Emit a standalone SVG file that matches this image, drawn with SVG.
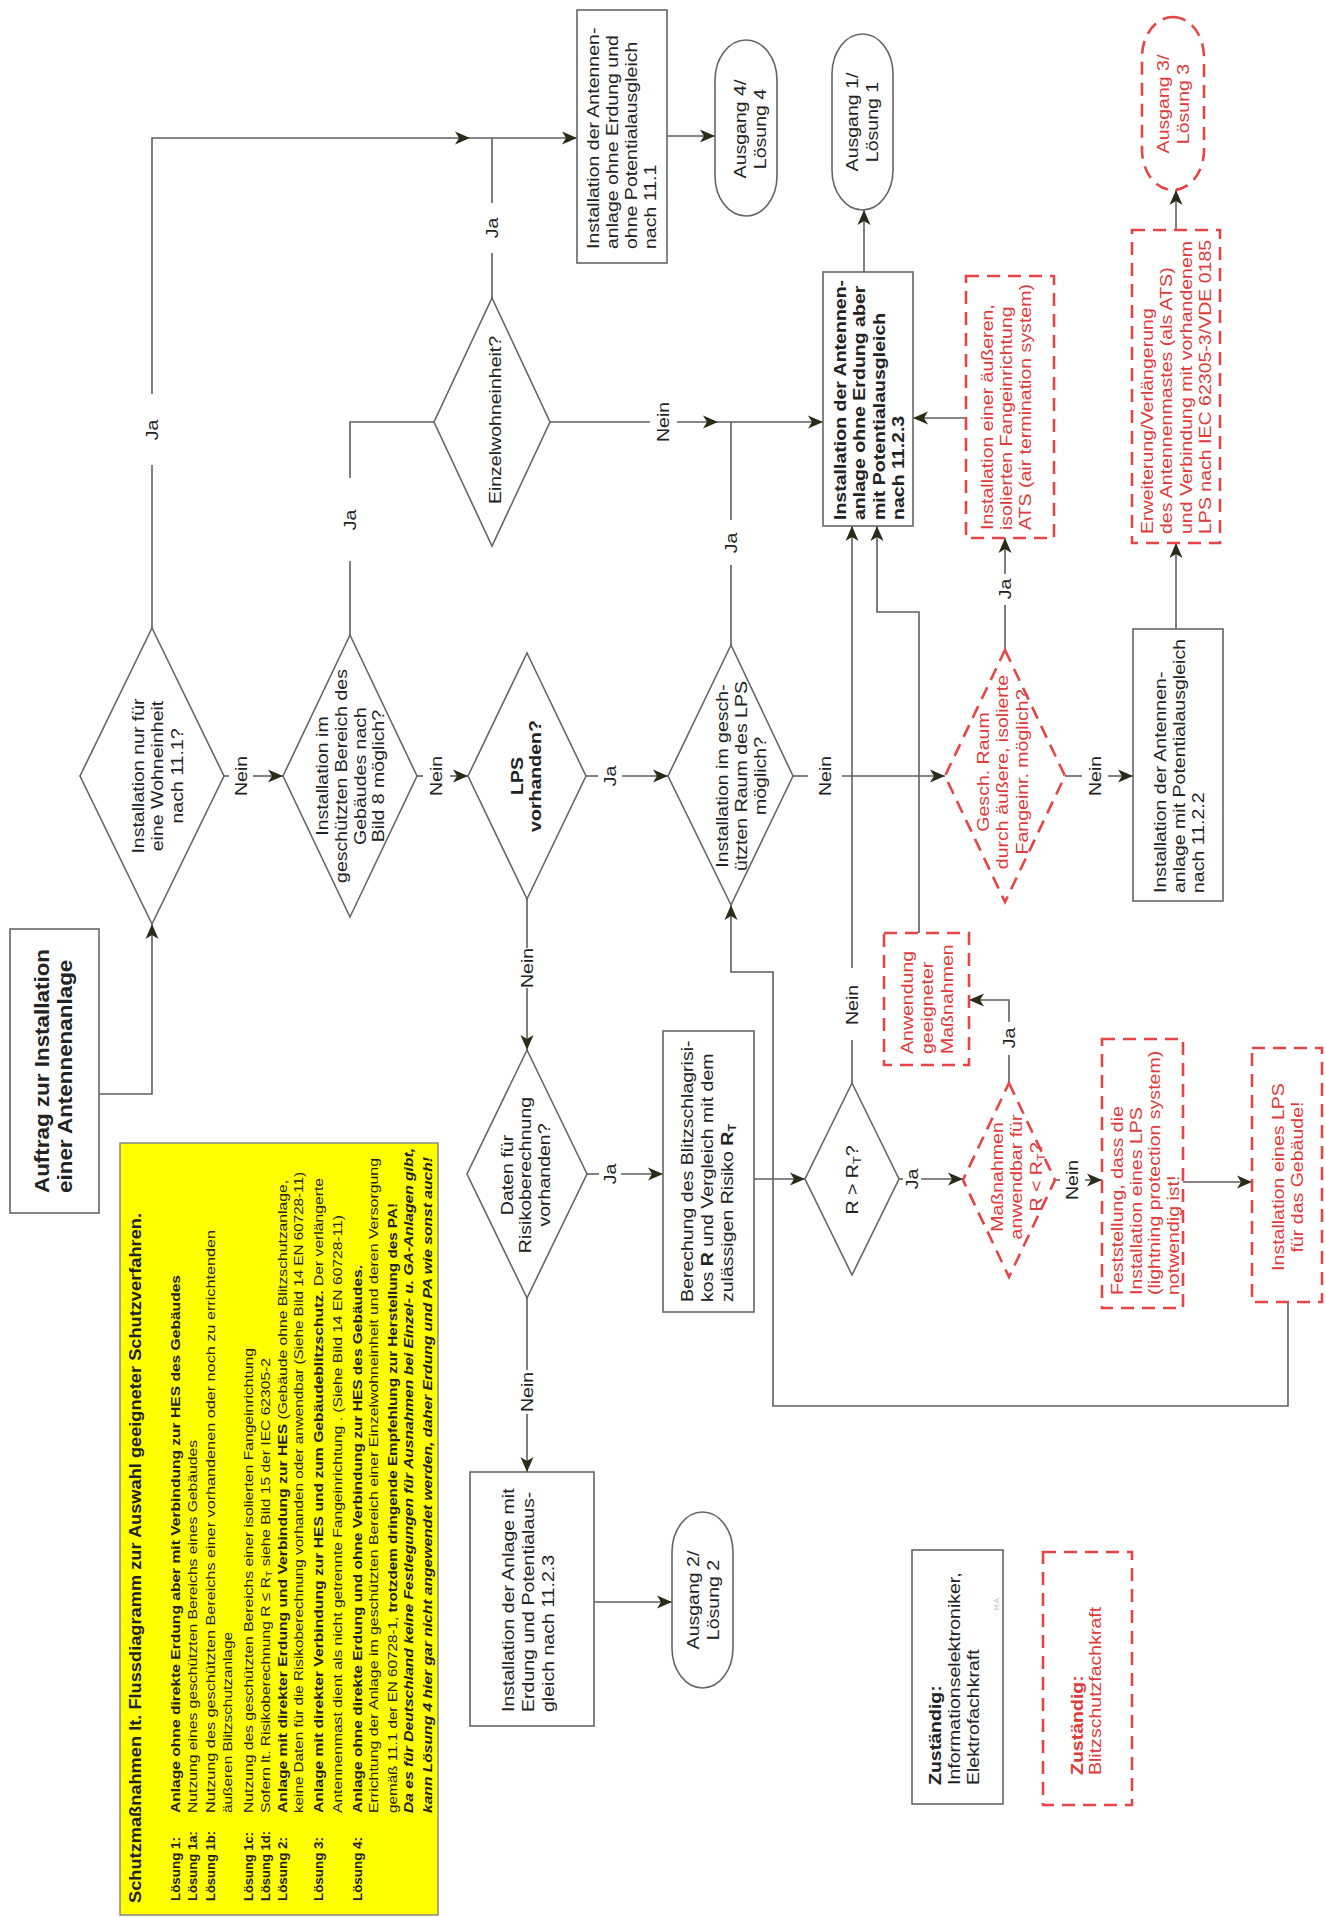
<svg xmlns="http://www.w3.org/2000/svg" width="1325" height="1917" viewBox="0 0 1325 1917">
<style>
.t{font-family:"Liberation Sans",Arial,sans-serif;font-size:17px;fill:#222}
.b{font-weight:bold}
.r{fill:#e03a3a}
.m{text-anchor:middle}
.box{fill:#fff;stroke:#666;stroke-width:1.6}
.rbox{fill:#fff;stroke:#e64545;stroke-width:2.6;stroke-dasharray:13 8}
.ln{fill:none;stroke:#5f5f5f;stroke-width:1.6}
.y{font-family:"Liberation Sans",Arial,sans-serif;font-size:13.5px;fill:#222}
</style>
<defs>
<marker id="a" viewBox="0 0 15 14" refX="15" refY="7" markerWidth="15" markerHeight="14" markerUnits="userSpaceOnUse" orient="auto"><path d="M0,0.5 L15,7 L0,13.5 L4,7 z" fill="#2b2b18"/></marker>
</defs>
<rect width="1325" height="1917" fill="#fff"/>

<g id="connectors">
<path class="ln" d="M99,1094 H152 V924" marker-end="url(#a)"/>
<path class="ln" d="M152,628 V465"/>
<path class="ln" d="M152,394 V138 H470" marker-end="url(#a)"/>
<path class="ln" d="M470,138 H577" marker-end="url(#a)"/>
<path class="ln" d="M224,776 H229"/>
<path class="ln" d="M253,776 H283" marker-end="url(#a)"/>
<path class="ln" d="M350,635 V561"/>
<path class="ln" d="M350,478 V422 H434"/>
<path class="ln" d="M492,298 V253"/>
<path class="ln" d="M492,203 V138"/>
<path class="ln" d="M667,136 H715" marker-end="url(#a)"/>
<path class="ln" d="M550,422 H650"/>
<path class="ln" d="M677,422 H718" marker-end="url(#a)"/>
<path class="ln" d="M718,422 H823" marker-end="url(#a)"/>
<path class="ln" d="M731,645 V565"/>
<path class="ln" d="M731,520 V422"/>
<path class="ln" d="M864,272 V210" marker-end="url(#a)"/>
<path class="ln" d="M966,418 H913" marker-end="url(#a)"/>
<path class="ln" d="M417,776 H423"/>
<path class="ln" d="M450,776 H468" marker-end="url(#a)"/>
<path class="ln" d="M586,776 H598"/>
<path class="ln" d="M622,776 H668" marker-end="url(#a)"/>
<path class="ln" d="M793,776 H808"/>
<path class="ln" d="M842,776 H945" marker-end="url(#a)"/>
<path class="ln" d="M852,1083 V1040"/>
<path class="ln" d="M852,968 V526" marker-end="url(#a)"/>
<path class="ln" d="M919,933 V612 H877 V526" marker-end="url(#a)"/>
<path class="ln" d="M1005,650 V605"/>
<path class="ln" d="M1005,574 V538" marker-end="url(#a)"/>
<path class="ln" d="M1065,776 H1082"/>
<path class="ln" d="M1108,776 H1133" marker-end="url(#a)"/>
<path class="ln" d="M1176,629 V543" marker-end="url(#a)"/>
<path class="ln" d="M1176,230 V190" marker-end="url(#a)"/>
<path class="ln" d="M527,899 V948"/>
<path class="ln" d="M527,988 V1050" marker-end="url(#a)"/>
<path class="ln" d="M587,1174 H599"/>
<path class="ln" d="M621,1174 H663" marker-end="url(#a)"/>
<path class="ln" d="M754,1179 H805" marker-end="url(#a)"/>
<path class="ln" d="M899,1179 H903"/>
<path class="ln" d="M921,1179 H963" marker-end="url(#a)"/>
<path class="ln" d="M1009,1083 V1055"/>
<path class="ln" d="M1009,1022 V1000 H969" marker-end="url(#a)"/>
<path class="ln" d="M1055,1180 H1060"/>
<path class="ln" d="M1085,1180 H1102" marker-end="url(#a)"/>
<path class="ln" d="M1183,1182 H1252" marker-end="url(#a)"/>
<path class="ln" d="M1288,1302 V1406 H773 V972 H731 V905" marker-end="url(#a)"/>
<path class="ln" d="M527,1298 V1370"/>
<path class="ln" d="M527,1414 V1472" marker-end="url(#a)"/>
<path class="ln" d="M594,1602 H672" marker-end="url(#a)"/>
<text class="t m" transform="translate(158 430) rotate(-90) scale(1.15 1)">Ja</text>
<text class="t m" transform="translate(247 776) rotate(-90) scale(1.15 1)">Nein</text>
<text class="t m" transform="translate(356 520) rotate(-90) scale(1.15 1)">Ja</text>
<text class="t m" transform="translate(498 228) rotate(-90) scale(1.15 1)">Ja</text>
<text class="t m" transform="translate(669 422) rotate(-90) scale(1.15 1)">Nein</text>
<text class="t m" transform="translate(737 543) rotate(-90) scale(1.15 1)">Ja</text>
<text class="t m" transform="translate(442 776) rotate(-90) scale(1.15 1)">Nein</text>
<text class="t m" transform="translate(616 776) rotate(-90) scale(1.15 1)">Ja</text>
<text class="t m" transform="translate(831 776) rotate(-90) scale(1.15 1)">Nein</text>
<text class="t m" transform="translate(858 1005) rotate(-90) scale(1.15 1)">Nein</text>
<text class="t m" transform="translate(1011 589) rotate(-90) scale(1.15 1)">Ja</text>
<text class="t m" transform="translate(1101 776) rotate(-90) scale(1.15 1)">Nein</text>
<text class="t m" transform="translate(533 968) rotate(-90) scale(1.15 1)">Nein</text>
<text class="t m" transform="translate(616 1174) rotate(-90) scale(1.15 1)">Ja</text>
<text class="t m" transform="translate(918 1179) rotate(-90) scale(1.15 1)">Ja</text>
<text class="t m" transform="translate(1015 1038) rotate(-90) scale(1.15 1)">Ja</text>
<text class="t m" transform="translate(1078 1180) rotate(-90) scale(1.15 1)">Nein</text>
<text class="t m" transform="translate(533 1392) rotate(-90) scale(1.15 1)">Nein</text>
</g>

<g id="n-auftrag">
<rect class="box" x="10" y="929" width="89" height="284" stroke-width="2"/>
<text class="t b" style="font-size:19.5px" transform="translate(49 1193) rotate(-90) scale(1.15 1)"><tspan x="0" y="0">Auftrag zur Installation</tspan><tspan x="0" y="23">einer Antennenanlage</tspan></text>
</g>

<g id="n-d1">
<polygon class="box" points="152,628 224,776 152,924 80,776"/>
<text class="t m" transform="translate(144 776) rotate(-90) scale(1.15 1)"><tspan x="0" y="0">Installation nur für</tspan><tspan x="0" y="19.5">eine Wohneinheit</tspan><tspan x="0" y="39">nach 11.1?</tspan></text>
</g>

<g id="n-d2">
<polygon class="box" points="350,635 417,776 350,917 283,776"/>
<text class="t m" transform="translate(328 776) rotate(-90) scale(1.15 1)"><tspan x="0" y="0">Installation im</tspan><tspan x="0" y="18.8">geschützten Bereich des</tspan><tspan x="0" y="37.6">Gebäudes nach</tspan><tspan x="0" y="56.4">Bild 8 möglich?</tspan></text>
</g>

<g id="n-einzel">
<polygon class="box" points="492,298 550,422 492,546 434,422"/>
<text class="t m" transform="translate(501 420) rotate(-90) scale(1.15 1)">Einzelwohneinheit?</text>
</g>

<g id="n-b111">
<rect class="box" x="577" y="10" width="90" height="253"/>
<text class="t" transform="translate(599 249) rotate(-90) scale(1.15 1)"><tspan x="0" y="0">Installation der Antennen-</tspan><tspan x="0" y="19">anlage  ohne Erdung und</tspan><tspan x="0" y="38">ohne Potentialausgleich</tspan><tspan x="0" y="57">nach 11.1</tspan></text>
</g>

<g id="n-aus4">
<rect class="box" x="715" y="40" width="62" height="176" rx="31" ry="40"/>
<text class="t m" transform="translate(746 129) rotate(-90) scale(1.15 1)"><tspan x="0" y="0">Ausgang 4/</tspan><tspan x="0" y="20">Lösung 4</tspan></text>
</g>

<g id="n-aus1">
<rect class="box" x="832" y="34" width="61" height="176" rx="30.5" ry="40"/>
<text class="t m" transform="translate(858 122) rotate(-90) scale(1.15 1)"><tspan x="0" y="0">Ausgang 1/</tspan><tspan x="0" y="20">Lösung 1</tspan></text>
</g>

<g id="n-b1123a">
<rect class="box" x="823" y="272" width="90" height="254" stroke="#555" stroke-width="2"/>
<text class="t b" transform="translate(846 520) rotate(-90) scale(1.15 1)"><tspan x="0" y="0">Installation der Antennen-</tspan><tspan x="0" y="19.5">anlage  ohne Erdung aber</tspan><tspan x="0" y="39">mit Potentialausgleich</tspan><tspan x="0" y="58.5">nach 11.2.3</tspan></text>
</g>

<g id="n-ats">
<rect class="rbox" x="966" y="276" width="88" height="262"/>
<text class="t r" transform="translate(993 530) rotate(-90) scale(1.15 1)"><tspan x="0" y="0">Installation einer äußeren,</tspan><tspan x="0" y="19">isolierten Fangeinrichtung</tspan><tspan x="0" y="38">ATS (air termination system)</tspan></text>
</g>

<g id="n-aus3">
<rect class="rbox" x="1142" y="17" width="62" height="173" rx="31" ry="40"/>
<text class="t m r" transform="translate(1169 104) rotate(-90) scale(1.15 1)"><tspan x="0" y="0">Ausgang 3/</tspan><tspan x="0" y="20">Lösung 3</tspan></text>
</g>

<g id="n-erw">
<rect class="rbox" x="1132" y="230" width="88" height="313"/>
<text class="t r" transform="translate(1153 534) rotate(-90) scale(1.15 1)"><tspan x="0" y="0">Erweiterung/Verlängerung</tspan><tspan x="0" y="19.3">des Antennenmastes (als ATS)</tspan><tspan x="0" y="38.6">und Verbindung mit vorhandenem</tspan><tspan x="0" y="57.9">LPS nach IEC 62305-3/VDE 0185</tspan></text>
</g>

<g id="n-lps">
<polygon class="box" points="527,653 586,776 527,899 468,776"/>
<text class="t m b" transform="translate(523 776) rotate(-90) scale(1.15 1)"><tspan x="0" y="0">LPS</tspan><tspan x="0" y="18.5">vorhanden?</tspan></text>
</g>

<g id="n-d3">
<polygon class="box" points="731,645 793,776 731,905 668,776"/>
<text class="t m" transform="translate(728 776) rotate(-90) scale(1.15 1)"><tspan x="0" y="0">Installation im gesch-</tspan><tspan x="0" y="19">ützten Raum des LPS</tspan><tspan x="0" y="38">möglich?</tspan></text>
</g>

<g id="n-rd1">
<polygon class="rbox" points="1005,650 1065,776 1005,902 945,776"/>
<text class="t m r" transform="translate(989 772) rotate(-90) scale(1.15 1)"><tspan x="0" y="0">Gesch. Raum</tspan><tspan x="0" y="19.5">durch äußere, isolierte</tspan><tspan x="0" y="39">Fangeinr. möglich?</tspan></text>
</g>

<g id="n-b1122">
<rect class="box" x="1133" y="629" width="90" height="272"/>
<text class="t" transform="translate(1166 893) rotate(-90) scale(1.15 1)"><tspan x="0" y="0">Installation der Antennen-</tspan><tspan x="0" y="19">anlage  mit Potentialausgleich</tspan><tspan x="0" y="38">nach 11.2.2</tspan></text>
</g>

<g id="n-anw">
<rect class="rbox" x="884" y="933" width="85" height="132"/>
<text class="t r" transform="translate(913 1054) rotate(-90) scale(1.15 1)"><tspan x="0" y="0">Anwendung</tspan><tspan x="0" y="20">geeigneter</tspan><tspan x="0" y="40">Maßnahmen</tspan></text>
</g>

<g id="n-daten">
<polygon class="box" points="527,1050 587,1174 527,1298 467,1174"/>
<text class="t m" transform="translate(513 1175) rotate(-90) scale(1.15 1)"><tspan x="0" y="0">Daten für</tspan><tspan x="0" y="18.5">Risikoberechnung</tspan><tspan x="0" y="37">vorhanden?</tspan></text>
</g>

<g id="n-ber">
<rect class="box" x="663" y="1031" width="91" height="281"/>
<text class="t" transform="translate(693 1302) rotate(-90) scale(1.15 1)"><tspan x="0" y="0">Berechung des Blitzschlagrisi-</tspan><tspan x="0" y="20">kos <tspan class="b">R</tspan> und Vergleich mit dem</tspan><tspan x="0" y="40">zulässigen Risiko <tspan class="b">R</tspan><tspan class="b" font-size="11" dy="3">T</tspan></tspan></text>
</g>

<g id="n-rrt">
<polygon class="box" points="852,1083 899,1179 852,1275 805,1179"/>
<text class="t m" transform="translate(858 1180) rotate(-90) scale(1.15 1)">R &gt; R<tspan font-size="11" dy="3">T</tspan><tspan dy="-3">?</tspan></text>
</g>

<g id="n-rd2">
<polygon class="rbox" points="1009,1083 1055,1180 1009,1277 963,1180"/>
<text class="t m r" transform="translate(1003 1177) rotate(-90) scale(1.15 1)"><tspan x="0" y="0">Maßnahmen</tspan><tspan x="0" y="19.5">anwendbar für</tspan><tspan x="0" y="39">R &lt; R<tspan font-size="11" dy="3">T</tspan><tspan dy="-3">?</tspan></tspan></text>
</g>

<g id="n-fest">
<rect class="rbox" x="1102" y="1039" width="81" height="269"/>
<text class="t r" transform="translate(1123 1295) rotate(-90) scale(1.15 1)"><tspan x="0" y="0">Feststellung, dass die</tspan><tspan x="0" y="18.7">Installation eines LPS</tspan><tspan x="0" y="37.4">(lightning protection system)</tspan><tspan x="0" y="56.1">notwendig ist!</tspan></text>
</g>

<g id="n-lpsinst">
<rect class="rbox" x="1252" y="1048" width="70" height="254"/>
<text class="t m r" transform="translate(1284 1177) rotate(-90) scale(1.15 1)"><tspan x="0" y="0">Installation eines LPS</tspan><tspan x="0" y="19.5">für das Gebäude!</tspan></text>
</g>

<g id="n-erd">
<rect class="box" x="470" y="1472" width="124" height="254"/>
<text class="t" transform="translate(514 1712) rotate(-90) scale(1.15 1)"><tspan x="0" y="0">Installation der Anlage mit</tspan><tspan x="0" y="20">Erdung und Potentialaus-</tspan><tspan x="0" y="40">gleich nach 11.2.3</tspan></text>
</g>

<g id="n-aus2">
<rect class="box" x="672" y="1512" width="61" height="176" rx="30.5" ry="40"/>
<text class="t m" transform="translate(699 1600) rotate(-90) scale(1.15 1)"><tspan x="0" y="0">Ausgang 2/</tspan><tspan x="0" y="20">Lösung 2</tspan></text>
</g>

<g id="n-zust1">
<rect class="box" x="912" y="1550" width="91" height="254"/>
<text class="t" transform="translate(941 1785) rotate(-90) scale(1.15 1)"><tspan x="0" y="0" class="b">Zuständig:</tspan><tspan x="0" y="19">Informationselektroniker,</tspan><tspan x="0" y="38">Elektrofachkraft</tspan></text>
<text class="t" style="font-size:7px;fill:#bbb" transform="translate(999 1610) rotate(-90)">H.A.</text>
</g>

<g id="n-zust2">
<rect class="rbox" x="1043" y="1552" width="89" height="253"/>
<text class="t r" transform="translate(1083 1775) rotate(-90) scale(1.15 1)"><tspan x="0" y="0" class="b">Zuständig:</tspan><tspan x="0" y="18">Blitzschutzfachkraft</tspan></text>
</g>

<g id="n-legend">
<rect x="120" y="1143" width="318" height="772" fill="#ffff00" stroke="#888" stroke-width="1.5"/>
<text class="y b" style="font-size:16px" transform="translate(141 1903) rotate(-90)" textLength="690" lengthAdjust="spacingAndGlyphs">Schutzmaßnahmen lt. Flussdiagramm zur Auswahl geeigneter Schutzverfahren.</text>
<text class="y b" transform="translate(180 1901) rotate(-90)" textLength="64" lengthAdjust="spacingAndGlyphs">Lösung 1:</text>
<text class="y b" transform="translate(180 1813) rotate(-90)" textLength="538" lengthAdjust="spacingAndGlyphs">Anlage ohne direkte Erdung aber mit Verbindung zur HES des Gebäudes</text>
<text class="y b" transform="translate(197 1901) rotate(-90)" textLength="70" lengthAdjust="spacingAndGlyphs">Lösung 1a:</text>
<text class="y" transform="translate(197 1813) rotate(-90)" textLength="373" lengthAdjust="spacingAndGlyphs">Nutzung eines geschützten Bereichs eines Gebäudes</text>
<text class="y b" transform="translate(215 1901) rotate(-90)" textLength="70" lengthAdjust="spacingAndGlyphs">Lösung 1b:</text>
<text class="y" transform="translate(215 1813) rotate(-90)" textLength="583" lengthAdjust="spacingAndGlyphs">Nutzung des geschützten Bereichs einer vorhandenen oder noch zu errichtenden</text>
<text class="y" transform="translate(232 1813) rotate(-90)" textLength="181" lengthAdjust="spacingAndGlyphs">äußeren Blitzschutzanlage</text>
<text class="y b" transform="translate(253 1901) rotate(-90)" textLength="69" lengthAdjust="spacingAndGlyphs">Lösung 1c:</text>
<text class="y" transform="translate(253 1813) rotate(-90)" textLength="465" lengthAdjust="spacingAndGlyphs">Nutzung des geschützten Bereichs einer isolierten Fangeinrichtung</text>
<text class="y b" transform="translate(270 1901) rotate(-90)" textLength="70" lengthAdjust="spacingAndGlyphs">Lösung 1d:</text>
<text class="y" transform="translate(270 1813) rotate(-90)" textLength="455" lengthAdjust="spacingAndGlyphs">Sofern lt. Risikoberechnung R ≤ R<tspan font-size="9" dy="2">T</tspan><tspan dy="-2"> siehe Bild 15 der IEC 62305-2</tspan></text>
<text class="y b" transform="translate(287 1901) rotate(-90)" textLength="64" lengthAdjust="spacingAndGlyphs">Lösung 2:</text>
<text class="y" transform="translate(287 1813) rotate(-90)" textLength="633" lengthAdjust="spacingAndGlyphs"><tspan class="b">Anlage mit direkter Erdung und Verbindung zur HES</tspan> (Gebäude ohne Blitzschutzanlage,</text>
<text class="y" transform="translate(303 1813) rotate(-90)" textLength="641" lengthAdjust="spacingAndGlyphs">keine Daten für die Risikoberechnung vorhanden oder anwendbar (Siehe Bild 14 EN 60728-11)</text>
<text class="y b" transform="translate(323 1901) rotate(-90)" textLength="64" lengthAdjust="spacingAndGlyphs">Lösung 3:</text>
<text class="y" transform="translate(323 1813) rotate(-90)" textLength="635" lengthAdjust="spacingAndGlyphs"><tspan class="b">Anlage mit direkter Verbindung zur HES und zum Gebäudeblitzschutz.</tspan> Der verlängerte</text>
<text class="y" transform="translate(342 1813) rotate(-90)" textLength="598" lengthAdjust="spacingAndGlyphs">Antennenmast dient als nicht getrennte Fangeinrichtung . (Siehe Bild 14 EN 60728-11)</text>
<text class="y b" transform="translate(362 1901) rotate(-90)" textLength="64" lengthAdjust="spacingAndGlyphs">Lösung 4:</text>
<text class="y b" transform="translate(362 1813) rotate(-90)" textLength="548" lengthAdjust="spacingAndGlyphs">Anlage ohne direkte Erdung und ohne Verbindung zur HES des Gebäudes.</text>
<text class="y" transform="translate(378 1813) rotate(-90)" textLength="655" lengthAdjust="spacingAndGlyphs">Errichtung der Anlage im geschützten Bereich einer Einzelwohneinheit und deren Versorgung</text>
<text class="y" transform="translate(397 1813) rotate(-90)" textLength="610" lengthAdjust="spacingAndGlyphs">gemäß 11.1 der EN 60728-1, <tspan class="b">trotzdem dringende Empfehlung zur Herstellung des PA!</tspan></text>
<text class="y b" font-style="italic" transform="translate(413 1813) rotate(-90)" textLength="665" lengthAdjust="spacingAndGlyphs">Da es für Deutschland keine Festlegungen für Ausnahmen bei Einzel- u. GA-Anlagen gibt,</text>
<text class="y b" font-style="italic" transform="translate(432 1813) rotate(-90)" textLength="656" lengthAdjust="spacingAndGlyphs">kann Lösung 4 hier gar nicht angewendet werden, daher Erdung und PA wie sonst auch!</text>
</g>
</svg>
